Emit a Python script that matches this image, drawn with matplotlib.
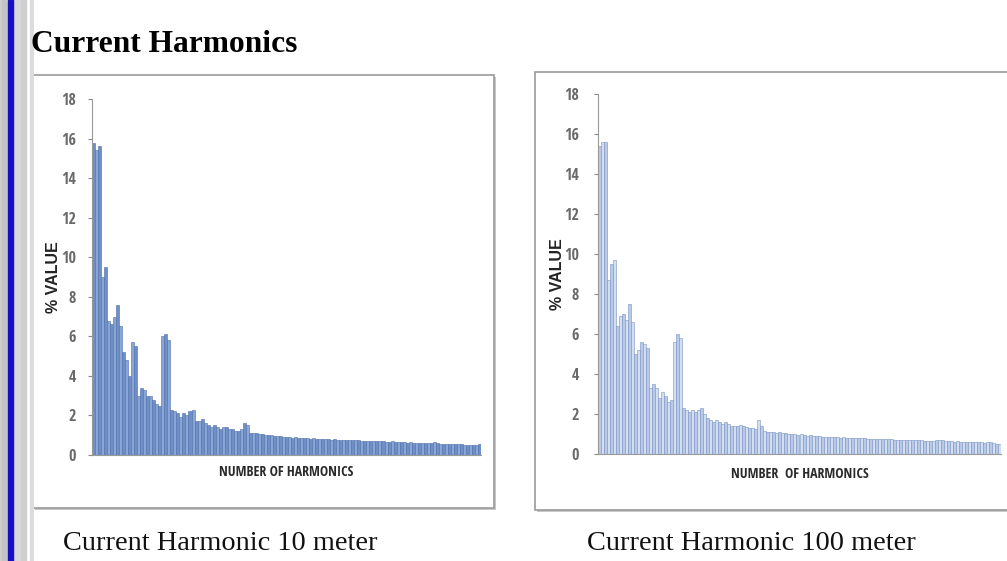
import numpy as np
import matplotlib
matplotlib.use('Agg')
import matplotlib.pyplot as plt
from matplotlib.patches import Rectangle

# harmonic magnitudes (% value), one bar per entry
harm10m = [15.8, 15.4, 15.6, 9.0, 9.5, 6.8, 6.6, 7.0, 7.6, 6.5,
           5.2, 4.8, 4.0, 5.7, 5.5, 3.0, 3.4, 3.3, 3.0, 3.0,
           2.8, 2.6, 2.5, 6.0, 6.1, 5.8, 2.3, 2.2, 2.1, 1.9,
           2.1, 2.0, 2.2, 2.3, 1.7, 1.7, 1.8, 1.6, 1.5, 1.4,
           1.5, 1.4, 1.3, 1.4, 1.4, 1.3, 1.3, 1.2, 1.2, 1.3,
           1.6, 1.5, 1.1, 1.1, 1.1, 1.05, 1.05, 1.0, 1.0, 1.0,
           0.95, 0.95, 0.95, 0.9, 0.9, 0.9, 0.88, 0.9, 0.87, 0.85,
           0.85, 0.84, 0.83, 0.85, 0.82, 0.8, 0.82, 0.8, 0.8, 0.78,
           0.8, 0.78, 0.77, 0.76, 0.78, 0.75, 0.75, 0.74, 0.76, 0.73,
           0.72, 0.72, 0.7, 0.71, 0.7, 0.69, 0.7, 0.68, 0.68, 0.7,
           0.67, 0.66, 0.65, 0.64, 0.63, 0.64, 0.62, 0.61, 0.62, 0.6,
           0.6, 0.61, 0.6, 0.65, 0.6, 0.58, 0.57, 0.57, 0.56, 0.56,
           0.55, 0.55, 0.54, 0.53, 0.52, 0.52, 0.5, 0.52, 0.55]

harm100m = [15.4, 15.6, 15.6, 8.7, 9.5, 9.7, 6.4, 6.9, 7.0, 6.7,
            7.5, 6.6, 5.0, 5.2, 5.6, 5.5, 5.3, 3.3, 3.5, 3.3,
            2.8, 3.1, 2.9, 2.6, 2.7, 5.6, 6.0, 5.8, 2.3, 2.2,
            2.1, 2.2, 2.1, 2.2, 2.3, 2.0, 1.8, 1.7, 1.6, 1.7,
            1.6, 1.5, 1.6, 1.5, 1.4, 1.4, 1.4, 1.45, 1.4, 1.35,
            1.3, 1.3, 1.25, 1.7, 1.4, 1.15, 1.1, 1.1, 1.1, 1.05,
            1.1, 1.05, 1.05, 1.0, 1.0, 1.0, 0.95, 1.0, 0.95, 0.9,
            0.95, 0.9, 0.9, 0.88, 0.87, 0.86, 0.85, 0.85, 0.84, 0.83,
            0.82, 0.83, 0.8, 0.8, 0.81, 0.8, 0.79, 0.78, 0.78, 0.77,
            0.76, 0.76, 0.75, 0.76, 0.75, 0.74, 0.73, 0.74, 0.72, 0.72,
            0.71, 0.72, 0.7, 0.7, 0.7, 0.69, 0.68, 0.68, 0.67, 0.66,
            0.66, 0.65, 0.72, 0.7, 0.68, 0.65, 0.64, 0.63, 0.62, 0.63,
            0.62, 0.61, 0.6, 0.6, 0.6, 0.59, 0.58, 0.6, 0.57, 0.62,
            0.58, 0.56, 0.52, 0.5]

yticks = [0, 2, 4, 6, 8, 10, 12, 14, 16, 18]
title = 'Current Harmonics'
captions = ['Current Harmonic 10 meter', 'Current Harmonic 100 meter']
xlabels = ['NUMBER OF HARMONICS', 'NUMBER  OF HARMONICS']

W, H = 1007, 561
fig = plt.figure(figsize=(W/100, H/100), dpi=100)
fig.patch.set_facecolor('white')

def px(x0, y0, x1, y1):
    # pixel box (top-left origin) -> figure fraction rect
    return [x0/W, 1 - y1/H, (x1-x0)/W, (y1-y0)/H]

# gray slide border with blue line at the left
axs = fig.add_axes(px(0, 0, 34, H))
axs.add_patch(Rectangle((0, 0), 26, 1, color='#cfcfcf'))
axs.add_patch(Rectangle((2, 0), 4, 1, color='#c4c4c4'))
axs.add_patch(Rectangle((14, 0), 6, 1, color='#d8d8d8'))
axs.add_patch(Rectangle((7.5, 0), 5, 1, color='#1a0fc4'))
axs.add_patch(Rectangle((30, 0), 3, 1, color='#dcdcdc'))
axs.set_xlim(0, 34); axs.set_ylim(0, 1)
axs.axis('off')

# chart frames
for (x0, y0, x1, y1) in [(33, 75, 494, 508), (535, 72, 1012, 510)]:
    fig.patches.append(Rectangle((x0/W + 2/W, 1 - (y1+2)/H), (x1-x0)/W, (y1-y0)/H,
                                 transform=fig.transFigure, facecolor='#c8c8c8',
                                 edgecolor='none', zorder=-6))
    fig.patches.append(Rectangle((x0/W, 1 - y1/H), (x1-x0)/W, (y1-y0)/H,
                                 transform=fig.transFigure, facecolor='white',
                                 edgecolor='#9a9a9a', linewidth=1.2, zorder=-5))

fig.text(31/W, 1 - 44/H, title, family='Liberation Serif', weight='bold',
         fontsize=22.7, va='center', ha='left', color='black')

narrow = ['Open Sans Condensed', 'Liberation Sans', 'DejaVu Sans']
setups = [
    (harm10m, px(92, 99, 481, 455), ('#6f8fc6', '#8aa6d4'), '#4d6fab', 8.5, 7, -0.079),
    (harm100m, px(598, 94, 1001, 454), ('#b9c9e6', '#d3def1'), '#7893c6', 10.5, 9, -0.082),
]
for k, (vals, rect, fills, edge, tpad, xpad, ylx) in enumerate(setups):
    ax = fig.add_axes(rect)
    n = len(vals)
    x = np.arange(n)
    cols = [fills[i % 2] for i in range(n)]
    ax.bar(x, vals, width=1.0, color=cols, edgecolor=edge, linewidth=0.4)
    ax.set_xlim(-0.5, n - 0.5)
    ax.set_ylim(0, 18)
    ax.set_yticks(yticks)
    ax.set_xticks([])
    ax.tick_params(axis='y', length=3, width=0.8, color='#888888',
                   labelsize=11.5, labelcolor='#6a6a6a', pad=tpad)
    for lab in ax.get_yticklabels():
        lab.set_family(narrow)
    for s in ['top', 'right']:
        ax.spines[s].set_visible(False)
    ax.spines['left'].set_color('#999999')
    ax.spines['bottom'].set_color('#999999')
    ax.set_facecolor('none')
    ax.set_ylabel('% VALUE', family='Liberation Sans', fontsize=11.5,
                  weight='bold', color='#222222')
    ax.yaxis.set_label_coords(ylx, 0.5)
    ax.set_xlabel(xlabels[k], family=narrow, fontsize=10, color='#2a2a2a',
                  labelpad=xpad)

fig.text(63/W, 1 - 543/H, captions[0], family='Liberation Serif', fontsize=20.4,
         va='center', ha='left', color='#111111')
fig.text(587/W, 1 - 543/H, captions[1], family='Liberation Serif', fontsize=20.4,
         va='center', ha='left', color='#111111')

fig.savefig('out.png', dpi=100)
